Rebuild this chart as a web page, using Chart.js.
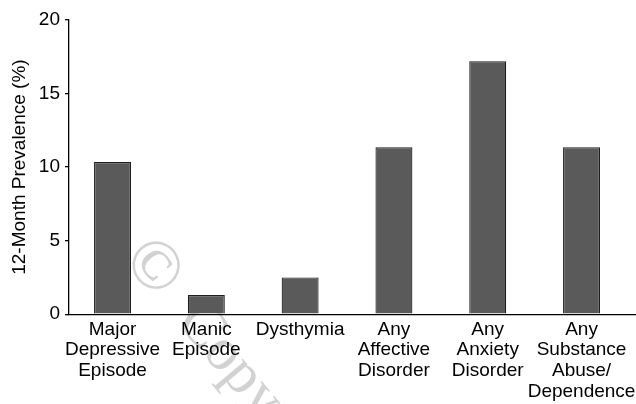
<!DOCTYPE html>
<html>
<head>
<meta charset="utf-8">
<script src="https://cdn.jsdelivr.net/npm/chart.js@4/dist/chart.umd.min.js"></script>
<style>
  html, body { margin: 0; padding: 0; background: #fff; }
  #wrap { width: 636px; height: 404px; }
</style>
</head>
<body>
<div id="wrap"><canvas id="prevChart"></canvas></div>
<script>
// categories (multi-line labels) and 12-month prevalence values (%)
var categories = [
    ['Major', 'Depressive', 'Episode'],
    ['Manic', 'Episode'],
    ['Dysthymia'],
    ['Any', 'Affective', 'Disorder'],
    ['Any', 'Anxiety', 'Disorder'],
    ['Any', 'Substance', 'Abuse/', 'Dependence']
];
var prevalence = [10.35, 1.3, 2.5, 11.35, 17.2, 11.35];
var yTicks = [0, 5, 10, 15, 20];

var font = 'Liberation Sans, Arial, Helvetica, sans-serif';

// faint rotated watermark, drawn first so everything sits on top of it
var watermark = {
    id: 'watermark',
    beforeDraw: function (chart) {
        var c = chart.ctx;
        c.save();
        c.fillStyle = '#d2d2d2';
        c.translate(155, 266);
        c.rotate(50 * Math.PI / 180);
        c.textBaseline = 'middle';
        c.textAlign = 'center';
        c.font = '70px "Liberation Serif", "Times New Roman", serif';
        c.fillText('\u00a9', 0, 3);
        c.textAlign = 'left';
        c.font = '60px "Liberation Serif", "Times New Roman", serif';
        c.fillText('Copyright', 56, 4);
        c.restore();
    }
};

const ctx = document.getElementById('prevChart').getContext('2d');

var mychart = new Chart(ctx, {
    type: 'bar',
    data: {
        datasets: [{
            data: prevalence.map(function (v, i) { return {x: i, y: v}; }),
            backgroundColor: '#5a5a5a',
            borderColor: '#1e1e1e',
            borderWidth: 1.2,
            barPercentage: 0.394,
            categoryPercentage: 1
        }]
    },
    options: {
        responsive: true,
        maintainAspectRatio: false,
        animation: false,
        layout: { padding: { top: 20, right: 1, bottom: -3, left: 0 } },
        plugins: {
            legend: { display: false },
            tooltip: { enabled: false }
        },
        scales: {
            x: {
                type: 'linear',
                min: -0.464,
                max: 5.57,
                offset: false,
                grid: { display: false, drawTicks: false, offset: false },
                border: { display: true, color: '#000', width: 1.3 },
                afterBuildTicks: function (scale) {
                    scale.ticks = categories.map(function (c, i) { return {value: i}; });
                },
                afterFit: function (scale) {
                    scale.paddingLeft = 0;
                    scale.paddingRight = 0;
                },
                ticks: {
                    autoSkip: false,
                    maxRotation: 0,
                    padding: 5,
                    color: '#000',
                    font: { family: font, size: 19, lineHeight: 1.09 },
                    callback: function (value) { return categories[value]; }
                }
            },
            y: {
                min: 0,
                max: 20,
                afterBuildTicks: function (scale) {
                    scale.ticks = yTicks.map(function (v) { return {value: v}; });
                },
                afterFit: function (scale) { scale.width = 69; },
                grid: { drawOnChartArea: false, drawTicks: true, tickLength: 4, color: '#000', lineWidth: 1.3 },
                border: { display: true, color: '#000', width: 1.3 },
                ticks: {
                    padding: 5,
                    color: '#000',
                    font: { family: font, size: 19 }
                },
                title: {
                    display: true,
                    text: '12-Month Prevalence (%)',
                    color: '#000',
                    font: { family: font, size: 19 },
                    padding: { top: 8, bottom: 0 }
                }
            }
        }
    },
    plugins: [watermark]
});
</script>
</body>
</html>
